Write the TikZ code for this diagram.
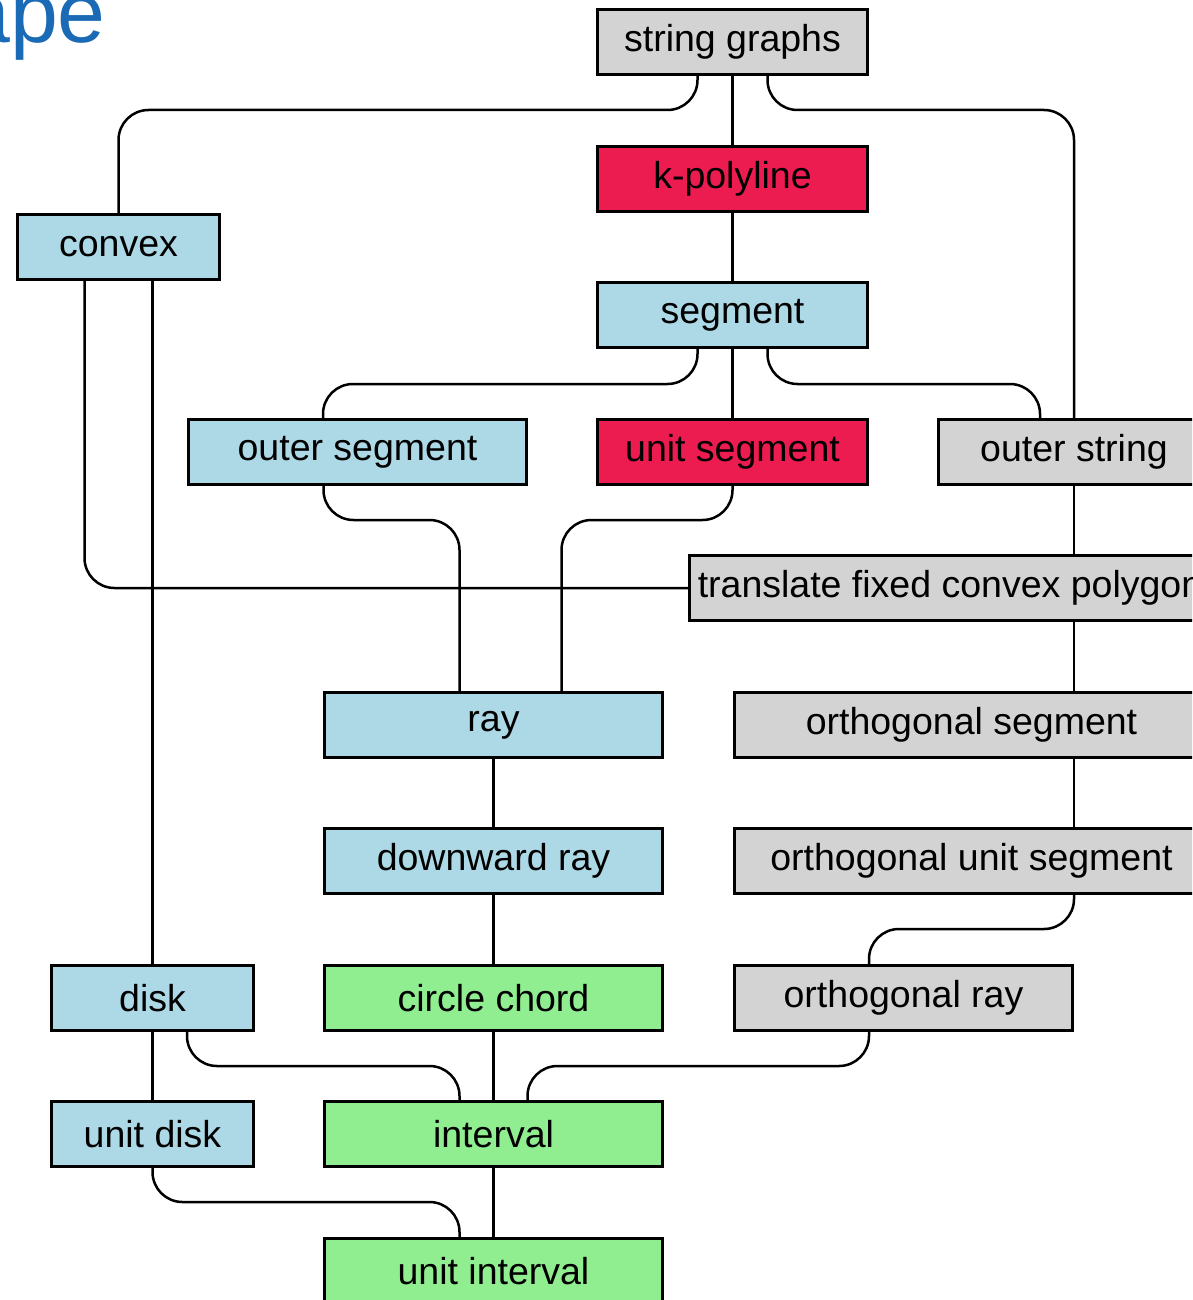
\documentclass[tikz,border=0pt]{standalone}
\usepackage{fontspec}
\setmainfont{Liberation Sans}
\definecolor{boxgrey}{RGB}{211,211,211}
\definecolor{boxblue}{RGB}{173,216,230}
\definecolor{boxred}{RGB}{237,28,80}
\definecolor{boxgreen}{RGB}{144,238,144}
\definecolor{titleblue}{RGB}{26,106,181}
\begin{document}
\begin{tikzpicture}[x=1pt,y=-1pt,
  box/.style={draw=black,line width=3pt,rectangle,minimum height=65pt,inner sep=0pt,
    font=\fontsize{37.5}{45}\selectfont},
  grey/.style={box,fill=boxgrey},
  blue/.style={box,fill=boxblue},
  red/.style={box,fill=boxred},
  green/.style={box,fill=boxgreen},
  conn/.style={draw=black,line width=2.5pt,rounded corners=30pt}]
\useasboundingbox (0,0) rectangle (1192,1300);
\clip (0,0) rectangle (1192,1300);

% heading fragment
\node[anchor=base east,inner sep=0pt,text=titleblue,font=\fontsize{86}{90}\selectfont] (title) at (106,43) {ape};

% classes
\node[grey,minimum width=270pt] (sg)   at (732.5,42)  {string graphs};
\node[red,minimum width=270pt]  (kp)   at (732.5,179) {k-polyline};
\node[blue,minimum width=270pt] (seg)  at (732.5,315) {segment};
\node[blue,minimum width=202pt] (cv)   at (118.5,247) {convex};
\node[blue,minimum width=338pt] (os)   at (357.5,452) {outer segment};
\node[red,minimum width=270pt]  (us)   at (732.5,452) {unit segment};
\node[grey,minimum width=271pt] (ost)  at (1074,452)  {outer string};
\node[grey,minimum width=521pt] (tr)   at (950,588)   {translate fixed convex polygon};
\node[blue,minimum width=338pt] (ray)  at (493.5,725) {ray};
\node[grey,minimum width=474pt] (oseg) at (971.5,725) {orthogonal segment};
\node[blue,minimum width=338pt] (dray) at (493.5,861) {downward ray};
\node[grey,minimum width=474pt] (ous)  at (971.5,861) {orthogonal unit segment};
\node[blue,minimum width=202pt] (disk) at (152.5,998) {disk};
\node[green,minimum width=338pt] (cc)  at (493.5,998) {circle chord};
\node[grey,minimum width=338pt] (oray) at (903.5,998) {orthogonal ray};
\node[blue,minimum width=202pt] (ud)   at (152.5,1134) {unit disk};
\node[green,minimum width=338pt] (int) at (493.5,1134) {interval};
\node[green,minimum width=338pt] (ui)  at (493.5,1271) {unit interval};

% inclusions
\draw[conn] (sg.south) -- (kp.north);
\draw[conn] ([xshift=-35pt]sg.south) -- ++(0,34) -| (cv.north);
\draw[conn] ([xshift=35pt]sg.south) -- ++(0,34) -| (ost.north);
\draw[conn] (kp.south) -- (seg.north);
\draw[conn] ([xshift=-35pt]seg.south) -- ++(0,35) -| ([xshift=-34.5pt]os.north);
\draw[conn] (seg.south) -- (us.north);
\draw[conn] ([xshift=35pt]seg.south) -- ++(0,35) -| ([xshift=-34pt]ost.north);
\draw[conn] ([xshift=-34pt]cv.south) |- (tr.west);
\draw[conn] ([xshift=34pt]cv.south) -- (disk.north);
\draw[conn] ([xshift=-34pt]os.south) -- ++(0,34) -| ([xshift=-34pt]ray.north);
\draw[conn] (us.south) -- ++(0,34) -| ([xshift=68pt]ray.north);
\draw[conn] (ost.south) -- ([xshift=124pt]tr.north);
\draw[conn] ([xshift=124pt]tr.south) -- ([xshift=102.5pt]oseg.north);
\draw[conn] (ray.south) -- (dray.north);
\draw[conn] ([xshift=102.5pt]oseg.south) -- ([xshift=102.5pt]ous.north);
\draw[conn] (dray.south) -- (cc.north);
\draw[conn] ([xshift=102.5pt]ous.south) -- ++(0,34) -| ([xshift=-34.5pt]oray.north);
\draw[conn] (disk.south) -- (ud.north);
\draw[conn] ([xshift=34.5pt]disk.south) -- ++(0,34) -| ([xshift=-34pt]int.north);
\draw[conn] (cc.south) -- (int.north);
\draw[conn] ([xshift=-34.5pt]oray.south) -- ++(0,34) -| ([xshift=34pt]int.north);
\draw[conn] (ud.south) -- ++(0,34) -| ([xshift=-34pt]ui.north);
\draw[conn] (int.south) -- (ui.north);
\end{tikzpicture}
\end{document}
